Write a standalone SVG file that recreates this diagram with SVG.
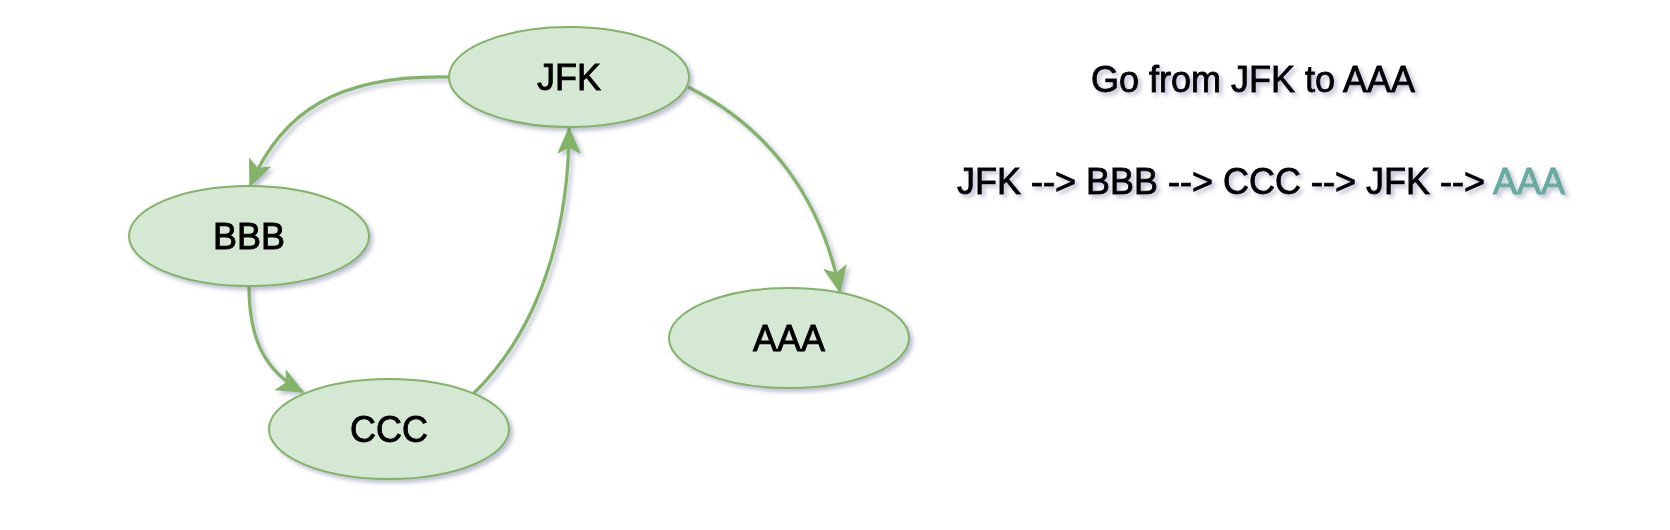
<svg xmlns="http://www.w3.org/2000/svg" width="1670" height="530" viewBox="0 0 1670 530">
  <defs>
    <filter id="sh" x="-20%" y="-20%" width="140%" height="150%">
      <feDropShadow dx="3" dy="3" stdDeviation="2" flood-color="#6b6f9a" flood-opacity="0.45"/>
    </filter>
    <marker id="arr" markerUnits="userSpaceOnUse" markerWidth="28" markerHeight="28" viewBox="0 0 28 28" refX="26" refY="14" orient="auto">
      <path d="M1,3 L26,14 L1,25 L7,14 Z" fill="#82b366" stroke="#82b366" stroke-width="1" stroke-linejoin="miter"/>
    </marker>
    <style>
      .node ellipse { fill: #d5e8d4; stroke: #82b366; stroke-width: 2; }
      .lbl { font-family: "Liberation Sans", Arial, sans-serif; font-size: 36px; fill: #000; text-anchor: middle; stroke: #000; stroke-width: 0.9px; }
      .edge { fill: none; stroke: #82b366; stroke-width: 3.2; marker-end: url(#arr); }
      .note { font-family: "Liberation Sans", Arial, sans-serif; font-size: 36px; fill: #000; stroke: #000; stroke-width: 0.9px; }
      .hl { fill: #67ab9f; stroke: #67ab9f; }
    </style>
  </defs>
  <rect width="1670" height="530" fill="#ffffff"/>
  <g id="connectors" filter="url(#sh)">
    <path class="edge" d="M448,77 C340,75 282,110 250,186"/>
    <path class="edge" d="M249,286 C249,335 262,370 303,392"/>
    <path class="edge" d="M472,395 C540,330 569,230 569,128"/>
    <path class="edge" d="M688,87 C770,128 822,200 840,292"/>
  </g>
  <g id="node-jfk" class="node" filter="url(#sh)">
    <ellipse cx="569" cy="77" rx="120" ry="50"/>
    <text class="lbl" x="569" y="90">JFK</text>
  </g>
  <g id="node-bbb" class="node" filter="url(#sh)">
    <ellipse cx="249" cy="236" rx="120" ry="50"/>
    <text class="lbl" x="249" y="249">BBB</text>
  </g>
  <g id="node-ccc" class="node" filter="url(#sh)">
    <ellipse cx="389" cy="429" rx="120" ry="50"/>
    <text class="lbl" x="389" y="442">CCC</text>
  </g>
  <g id="node-aaa" class="node" filter="url(#sh)">
    <ellipse cx="789" cy="338" rx="120" ry="50"/>
    <text class="lbl" x="789" y="351">AAA</text>
  </g>
  <g id="notes" filter="url(#sh)">
    <text class="note" x="1253" y="92" text-anchor="middle">Go from JFK to AAA</text>
    <text class="note" x="1261" y="194" text-anchor="middle">JFK --&gt; BBB --&gt; CCC --&gt; JFK --&gt; <tspan class="hl">AAA</tspan></text>
  </g>
</svg>
